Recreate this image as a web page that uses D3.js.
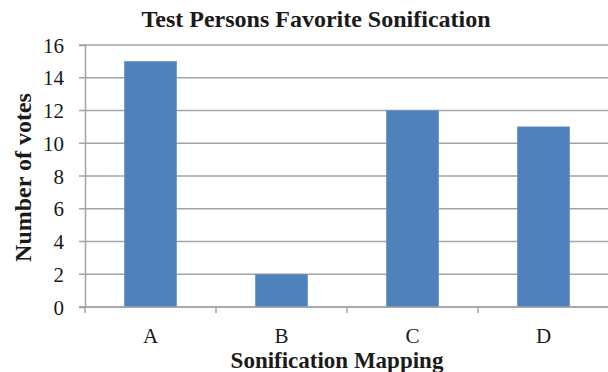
<!DOCTYPE html>
<html>
<head>
<meta charset="utf-8">
<script src="https://cdn.jsdelivr.net/npm/d3@7"></script>
<style>
	body { margin: 0; background: #fff; }
	svg { display: block; }
	.title { font-family: "Liberation Serif", "Times New Roman", serif; font-weight: bold; fill: #1a1a1a; }
</style>
</head>
<body>
<div id="chart"></div>
<script>
const categories = ["A", "B", "C", "D"];
const votes = [15, 2, 12, 11];
const yTicks = [0, 2, 4, 6, 8, 10, 12, 14, 16];

const width = 608, height = 372;
const margin = { top: 45, right: -1, bottom: 65, left: 85 };
const serif = "Liberation Serif, Times New Roman, serif";

const svg = d3.select("#chart").append("svg")
	.attr("width", width)
	.attr("height", height);

let scale = {
	x: d3.scaleBand().domain(categories).range([margin.left, width - margin.right]),
	y: d3.scaleLinear().domain([0, 16]).range([height - margin.bottom, margin.top])
};

// gridlines
svg.append("g")
	.selectAll("line")
	.data(yTicks)
	.enter().append("line")
	.attr("x1", margin.left - 6)
	.attr("x2", width)
	.attr("y1", d => scale.y(d))
	.attr("y2", d => scale.y(d))
	.attr("stroke", "#a3a3a6")
	.attr("stroke-width", 1.5);

// y axis
let yAxis = svg.append("g")
	.attr("transform", `translate(${margin.left}, 0)`)
	.call(d3.axisLeft(scale.y).tickValues(yTicks).tickSize(6).tickPadding(15))
	.attr("font-family", serif)
	.attr("font-size", 21);
yAxis.select(".domain").attr("stroke", "#a3a3a6").attr("stroke-width", 1.5);
yAxis.selectAll(".tick line").remove();
yAxis.selectAll(".tick text")
	.attr("dy", "0.34em")
	.attr("fill", "#1a1a1a");

// bars
svg.append("g")
	.selectAll("rect")
	.data(votes)
	.enter().append("rect")
	.attr("x", (d, i) => scale.x(categories[i]) + scale.x.bandwidth() * 0.3)
	.attr("width", scale.x.bandwidth() * 0.4)
	.attr("y", d => scale.y(d))
	.attr("height", d => scale.y(0) - scale.y(d))
	.attr("fill", "#4f81bd")
	.attr("stroke", "#7095c8")
	.attr("stroke-width", 0.6);

// x axis
let xAxis = svg.append("g")
	.attr("transform", `translate(0, ${scale.y(0)})`)
	.call(d3.axisBottom(scale.x).tickSize(0).tickPadding(22))
	.attr("font-family", serif)
	.attr("font-size", 21);
xAxis.select(".domain").remove();
xAxis.selectAll(".tick text")
	.attr("y", 36)
	.attr("dy", 0)
	.attr("fill", "#1a1a1a");
xAxis.append("line")
	.attr("x1", margin.left - 6).attr("x2", width)
	.attr("stroke", "#a3a3a6").attr("stroke-width", 1.5);
xAxis.selectAll(".bound")
	.data(categories)
	.enter().append("line")
	.attr("x1", d => scale.x(d)).attr("x2", d => scale.x(d))
	.attr("y1", 0).attr("y2", 6)
	.attr("stroke", "#a3a3a6").attr("stroke-width", 1.5);

// titles
svg.append("text")
	.attr("class", "title")
	.attr("x", 316).attr("y", 27)
	.attr("text-anchor", "middle")
	.style("font-size", "24px")
	.text("Test Persons Favorite Sonification");

svg.append("text")
	.attr("class", "title")
	.attr("x", 337).attr("y", 368)
	.attr("text-anchor", "middle")
	.style("font-size", "23px")
	.text("Sonification Mapping");

svg.append("text")
	.attr("class", "title")
	.attr("transform", "translate(31, 177.5) rotate(-90)")
	.attr("text-anchor", "middle")
	.style("font-size", "24px")
	.text("Number of votes");
</script>
</body>
</html>
